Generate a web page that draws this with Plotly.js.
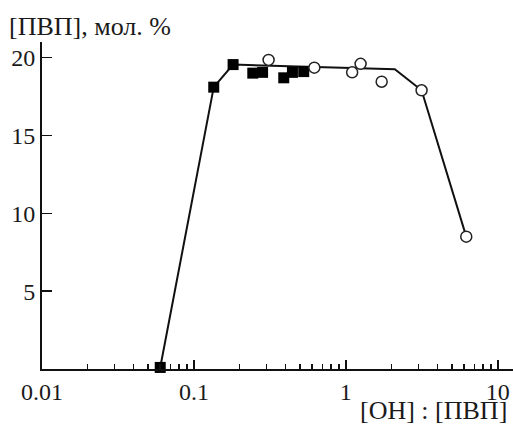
<!DOCTYPE html>
<html>
<head>
<meta charset="utf-8">
<script src="https://cdn.plot.ly/plotly-3.0.1.min.js"></script>
<style>
  html, body { margin: 0; padding: 0; background: #fff; }
  #chart { width: 513px; height: 424px; }
</style>
</head>
<body>
<div id="chart"></div>
<script>
// Filled squares: [OH]:[ПВП] ratio and ПВП content, mol. %
const squaresX = [0.06, 0.135, 0.181, 0.244, 0.283, 0.39, 0.445, 0.528];
const squaresY = [0.1, 18.1, 19.55, 19.0, 19.05, 18.7, 19.05, 19.1];

// Open circles
const circlesX = [0.31, 0.62, 1.1, 1.25, 1.72, 3.15, 6.2];
const circlesY = [19.85, 19.35, 19.05, 19.6, 18.45, 17.9, 8.5];

// Guide line vertices
const lineX = [0.06, 0.135, 0.181, 2.1, 3.15, 6.2];
const lineY = [0.1, 18.1, 19.55, 19.25, 17.9, 8.5];

// Axis ticks
const xTickVals = [0.01, 0.1, 1, 10];
const xTickText = ['0.01', '0.1', '1', '10'];
const yTickVals = [5, 10, 15, 20];
const yTickText = ['5', '10', '15', '20'];

const FONT = 'Liberation Serif';
const INK = '#1a1a1a';
const FS = 24;   // tick labels
const FT = 26;   // axis titles

const traces = [
  {
    x: lineX, y: lineY, mode: 'lines', type: 'scatter',
    line: { color: '#111', width: 2 }, hoverinfo: 'skip', cliponaxis: false
  },
  {
    x: squaresX, y: squaresY, mode: 'markers', type: 'scatter',
    marker: { symbol: 'square', size: 11, color: '#000', line: { width: 0 } },
    cliponaxis: false
  },
  {
    x: circlesX, y: circlesY, mode: 'markers', type: 'scatter',
    marker: { symbol: 'circle', size: 11, color: '#fff', line: { color: '#222', width: 1.5 } },
    cliponaxis: false
  }
];

const layout = {
  width: 513, height: 424,
  margin: { l: 42, r: 0, t: 42, b: 55 },
  paper_bgcolor: '#fff', plot_bgcolor: '#fff',
  showlegend: false,
  font: { family: FONT, size: FS, color: INK },
  xaxis: {
    type: 'log', range: [-2, 1.1],
    showgrid: false, zeroline: false,
    showline: true, linecolor: '#111', linewidth: 2,
    ticks: 'inside', ticklen: 9, tickwidth: 1.5, tickcolor: '#111',
    tickvals: xTickVals, ticktext: xTickText,
    minor: { ticks: 'inside', ticklen: 5, tickwidth: 1.5, tickcolor: '#111', dtick: 'D1', showgrid: false },
    tickfont: { family: FONT, size: FS, color: INK }
  },
  yaxis: {
    range: [0, 21],
    showgrid: false, zeroline: false,
    showline: true, linecolor: '#111', linewidth: 2,
    ticks: 'inside', ticklen: 10, tickwidth: 1.5, tickcolor: '#111',
    tickvals: yTickVals, ticktext: yTickText,
    tickfont: { family: FONT, size: FS, color: INK }
  },
  annotations: [
    {
      text: '[ПВП], мол. %', xref: 'paper', yref: 'paper',
      x: -0.074, y: 1.0, xanchor: 'left', yanchor: 'bottom', yshift: -1,
      showarrow: false, font: { family: FONT, size: FT, color: INK }
    },
    {
      text: '[OH] : [ПВП]', xref: 'paper', yref: 'paper',
      x: 0.991, y: -0.176, xanchor: 'right', yanchor: 'bottom',
      showarrow: false, font: { family: FONT, size: FT, color: INK }
    }
  ]
};

Plotly.newPlot('chart', traces, layout, { staticPlot: true, displayModeBar: false });
</script>
</body>
</html>
